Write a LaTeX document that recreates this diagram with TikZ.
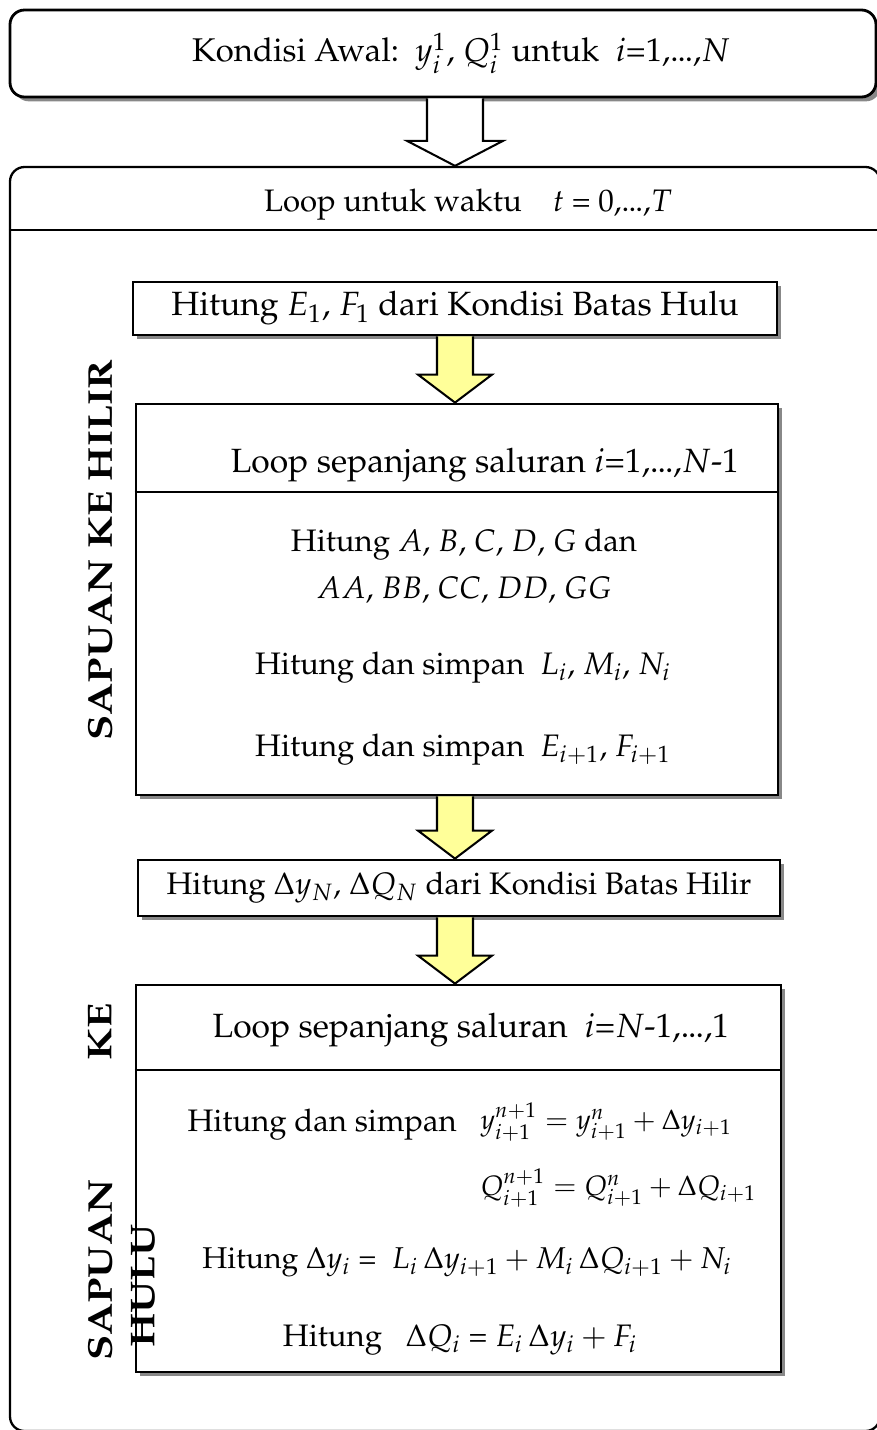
\documentclass[tikz,border=0pt]{standalone}
\usepackage[T1]{fontenc}
\usepackage{mathpazo}
\usetikzlibrary{calc,shadows}
\definecolor{arrowyellow}{HTML}{FFFF99}
\definecolor{shadowgray}{HTML}{888888}
\newcommand{\px}{0.0138cm}
\newcommand{\tdots}{.\kern-0.03em.\kern-0.03em.}
% block arrow from the bottom of one box to the top of the next
% #1 style, #2 from, #3 to, #4 shaft half width, #5 head half width, #6 head length
\newcommand{\flowarrow}[6]{%
  \draw[#1] ($(#2.south -| 455,0)+(-#4,0)$) -- ($(#3.north -| 455,0)+(-#4,-#6)$)
    -- ($(#3.north -| 455,0)+(-#5,-#6)$) -- (#3.north -| 455,0)
    -- ($(#3.north -| 455,0)+(#5,-#6)$) -- ($(#3.north -| 455,0)+(#4,-#6)$)
    -- ($(#2.south -| 455,0)+(#4,0)$);}
\tikzset{
  box/.style={draw, line width=1.1pt, fill=white, inner sep=0pt,
    drop shadow={shadow xshift=0.06cm, shadow yshift=-0.06cm, fill=shadowgray, opacity=1}},
  rbox/.style={box, rounded corners=0.2cm},
  txt/.style={inner sep=0pt, font=\fontsize{12.2}{14}\selectfont},
  bigtxt/.style={inner sep=0pt, font=\fontsize{13.2}{15}\selectfont},
  formula/.style={inner sep=0pt, font=\fontsize{11}{13}\selectfont},
  sidetext/.style={inner sep=0pt, rotate=90, font=\bfseries\fontsize{13.5}{15}\selectfont},
  yarrow/.style={draw, line width=0.8pt, fill=arrowyellow},
  warrow/.style={draw, line width=0.8pt, fill=white},
}
\begin{document}
\begin{tikzpicture}[x=0.0138cm, y=-0.0138cm]
\useasboundingbox (0,0) rectangle (877,1430);
\clip (0,0) rectangle (877,1430);
% kondisi awal
\node[rbox, minimum width=866*\px, minimum height=87*\px] (init) at (443,53.5) {};
\node[txt, font=\fontsize{12.9}{15}\selectfont] (inittext) at (461,53)
  {Kondisi Awal:\ \ $y_i^1$, $Q_i^1$ untuk\ \ $i$=1,\tdots,$N$};
% loop waktu
\node[draw, line width=0.9pt, rounded corners=0.2cm, minimum width=870*\px,
  minimum height=1264*\px, inner sep=0pt] (tloop) at (445,799) {};
\node[txt] (tlooptext) at (468,205) {Loop untuk waktu\quad $t$ = 0,\tdots,$T$};
\draw[line width=0.9pt] (tloop.west |- 0,230) -- (tloop.east |- 0,230);
% batas hulu
\node[box, bigtxt, minimum width=644*\px, minimum height=53*\px] (hulu) at (455,308.5)
  {Hitung $E_1$, $F_1$ dari Kondisi Batas Hulu};
% sapuan ke hilir
\node[box, minimum width=642*\px, minimum height=391*\px] (sweepdown) at (457,599.5) {};
\draw[line width=1.1pt] (sweepdown.west |- 0,492) -- (sweepdown.east |- 0,492);
\node[bigtxt] (downhead) at (485,465) {Loop sepanjang saluran $i$=1,\tdots,$N$-1};
\node[txt] (downcoef) at (464,545) {Hitung $A$, $B$, $C$, $D$, $G$ dan};
\node[txt] (downcoef2) at (464,590) {$AA$, $BB$, $CC$, $DD$, $GG$};
\node[txt] (downlmn) at (463,668) {Hitung dan simpan\ \ $L_i$, $M_i$, $N_i$};
\node[txt] (downef) at (463,750) {Hitung dan simpan\ \ $E_{i+1}$, $F_{i+1}$};
\node[sidetext] (downlabel) at (100,550) {\scalebox{1.2}[1]{SAPUAN KE HILIR}};
% batas hilir
\node[box, txt, minimum width=642*\px, minimum height=56*\px] (hilir) at (459,888)
  {Hitung $\Delta y_N$, $\Delta Q_N$ dari Kondisi Batas Hilir};
% sapuan ke hulu
\node[box, minimum width=645*\px, minimum height=387*\px] (sweepup) at (458.5,1178.5) {};
\draw[line width=1.1pt] (sweepup.west |- 0,1070) -- (sweepup.east |- 0,1070);
\node[bigtxt] (uphead) at (471,1030) {Loop sepanjang saluran\ \ $i$=$N$-1,\tdots,1};
\node[txt, anchor=west] (upstore) at (187,1125) {Hitung dan simpan};
\node[formula, anchor=west] (upy) at (480,1122) {$y_{i+1}^{n+1} = y_{i+1}^{n} + \Delta y_{i+1}$};
\node[formula, anchor=west] (upq) at (480,1188) {$Q_{i+1}^{n+1} = Q_{i+1}^{n} + \Delta Q_{i+1}$};
\node[txt, font=\fontsize{11.8}{14}\selectfont] (updy) at (467,1262)
  {Hitung $\Delta y_i$\ =\ \ $L_i\,\Delta y_{i+1} + M_i\,\Delta Q_{i+1} + N_i$};
\node[txt] (updq) at (460,1340) {Hitung\ \ \ $\Delta Q_i$\ = $E_i\,\Delta y_i + F_i$};
\node[sidetext] (uplabel1) at (100,1032) {\scalebox{1.2}[1]{KE}};
\node[sidetext] (uplabel2) at (100,1270) {\scalebox{1.2}[1]{SAPUAN}};
\node[sidetext] (uplabel3) at (143,1286) {\scalebox{1.2}[1]{HULU}};
% panah
\flowarrow{warrow}{init}{tloop}{28}{48}{25}
\flowarrow{yarrow}{hulu}{sweepdown}{18}{37}{28}
\flowarrow{yarrow}{sweepdown}{hilir}{18}{37}{28}
\flowarrow{yarrow}{hilir}{sweepup}{18}{37}{28}
\end{tikzpicture}
\end{document}
